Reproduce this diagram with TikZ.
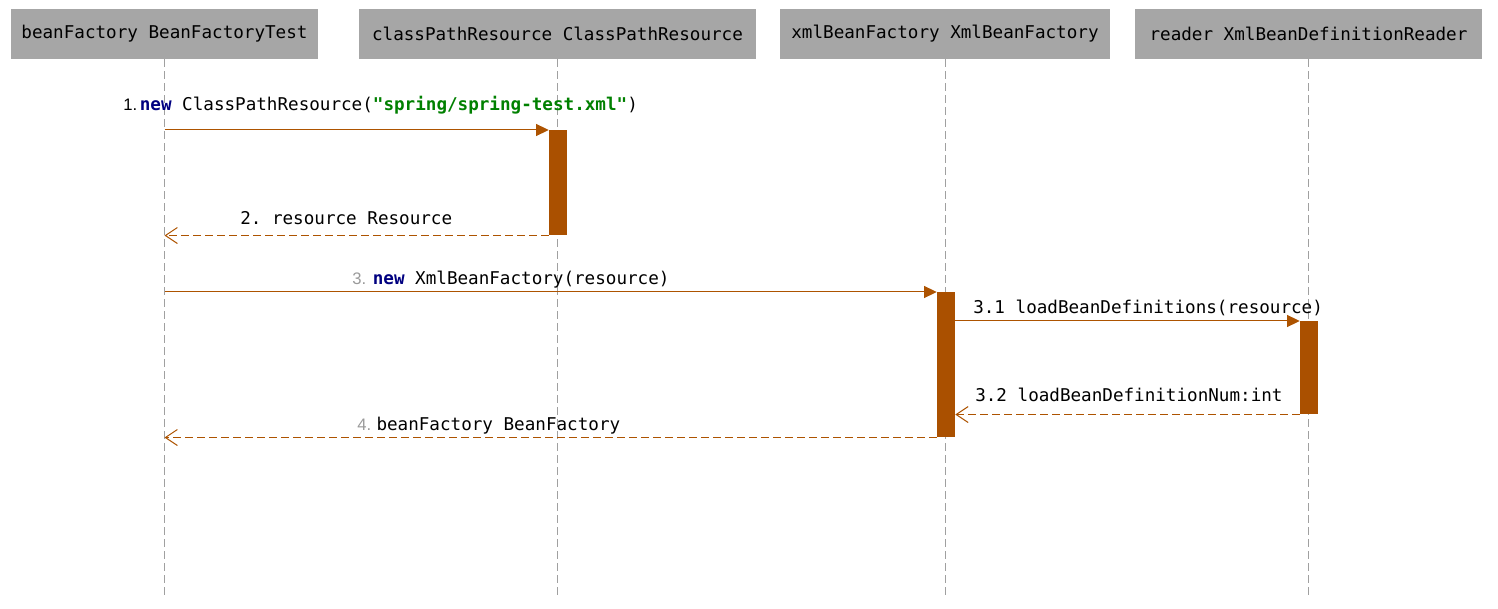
\documentclass[tikz,border=0pt]{standalone}
\usepackage{fontspec}
\setmainfont{Liberation Sans}
\setsansfont{Liberation Sans}
\setmonofont{DejaVu Sans Mono}
\usetikzlibrary{arrows.meta,positioning}
\definecolor{sqhead}{HTML}{A6A6A6}
\definecolor{sqlife}{HTML}{A0A0A0}
\definecolor{sqmsg}{HTML}{AD5300}
\definecolor{sqbar}{HTML}{AA5000}
\definecolor{sqkey}{HTML}{000080}
\definecolor{sqstr}{HTML}{008000}
\definecolor{sqnum}{HTML}{9A9A9A}
\newcommand{\sqfont}{\fontsize{13.2}{15}\selectfont\ttfamily}
\newcommand{\sqnumfont}{\fontsize{12.5}{14}\selectfont\sffamily}
\tikzset{
  sqactor/.style={
    fill=sqhead,
    draw=none,
    minimum height=37.5pt,
    inner sep=0pt,
    font=\sqfont,
    text=black
  },
  sqlifeline/.style={
    draw=sqlife,
    line width=0.75pt,
    dash pattern=on 6pt off 3pt
  },
  sqactive/.style={
    fill=sqbar,
    draw=none,
    minimum width=13.5pt,
    inner sep=0pt,
    anchor=north
  },
  sqcall/.style={
    -{Triangle[length=9.5pt,width=9pt]},
    draw=sqmsg,
    line width=0.75pt
  },
  sqreturn/.style={
    -{Straight Barb[length=9pt,width=12pt]},
    draw=sqmsg,
    line width=0.75pt,
    dash pattern=on 6pt off 3pt
  },
  sqlabel/.style={
    anchor=base west,
    inner sep=0pt,
    font=\sqfont,
    text=black
  }
}

\begin{document}
\begin{tikzpicture}[x=0.75pt,y=-0.75pt]
  \useasboundingbox (0,0) rectangle (1498,609);

  % participants
  \node[sqactor, minimum width=230.25pt] (test) at (164.5,34) {beanFactory BeanFactoryTest};
  \node[sqactor, minimum width=297.75pt] (cpres) at (557.5,34) {classPathResource ClassPathResource};
  \node[sqactor, minimum width=247.5pt] (xmlbf) at (945,34) {xmlBeanFactory XmlBeanFactory};
  \node[sqactor, minimum width=260.25pt] (reader) at (1308.5,34) {reader XmlBeanDefinitionReader};

  % lifelines
  \foreach \who in {test,cpres,xmlbf,reader}
    \draw[sqlifeline] (\who.south) -- (\who.south |- 0,597);

  % activations
  \node[sqactive, minimum height=78.75pt] (actres) at (558,130) {};
  \node[sqactive, minimum height=108.75pt] (actxml) at (946,292) {};
  \node[sqactive, minimum height=69.75pt] (actreader) at (1309,321) {};

  % messages
  \draw[sqcall] (test.south |- actres.north) -- (actres.north west);
  \draw[sqreturn] (actres.south west) -- (test.south |- actres.south);
  \draw[sqcall] (test.south |- actxml.north) -- (actxml.north west);
  \draw[sqcall] (actxml.east |- actreader.north) -- (actreader.north west);
  \draw[sqreturn] (actreader.south west) -- (actxml.east |- actreader.south);
  \draw[sqreturn] (actxml.south west) -- (test.south |- actxml.south);

  % labels
  \node[sqlabel] (lblone) at (123,111) {{\sqnumfont 1.}\hspace{2pt}\textbf{\color{sqkey}new} ClassPathResource(\textbf{\color{sqstr}"spring/spring-test.xml"})};
  \node[sqlabel] (lbltwo) at (240,225) {2. resource Resource};
  \node[sqlabel] (lblthree) at (352,285) {{\sqnumfont\color{sqnum}3.}\hspace{5pt}\textbf{\color{sqkey}new} XmlBeanFactory(resource)};
  \node[sqlabel] (lblload) at (973,314) {3.1 loadBeanDefinitions(resource)};
  \node[sqlabel] (lblnum) at (975,401) {3.2 loadBeanDefinitionNum:int};
  \node[sqlabel] (lblfour) at (357,430) {{\sqnumfont\color{sqnum}4.}\hspace{4pt}beanFactory BeanFactory};
\end{tikzpicture}
\end{document}
